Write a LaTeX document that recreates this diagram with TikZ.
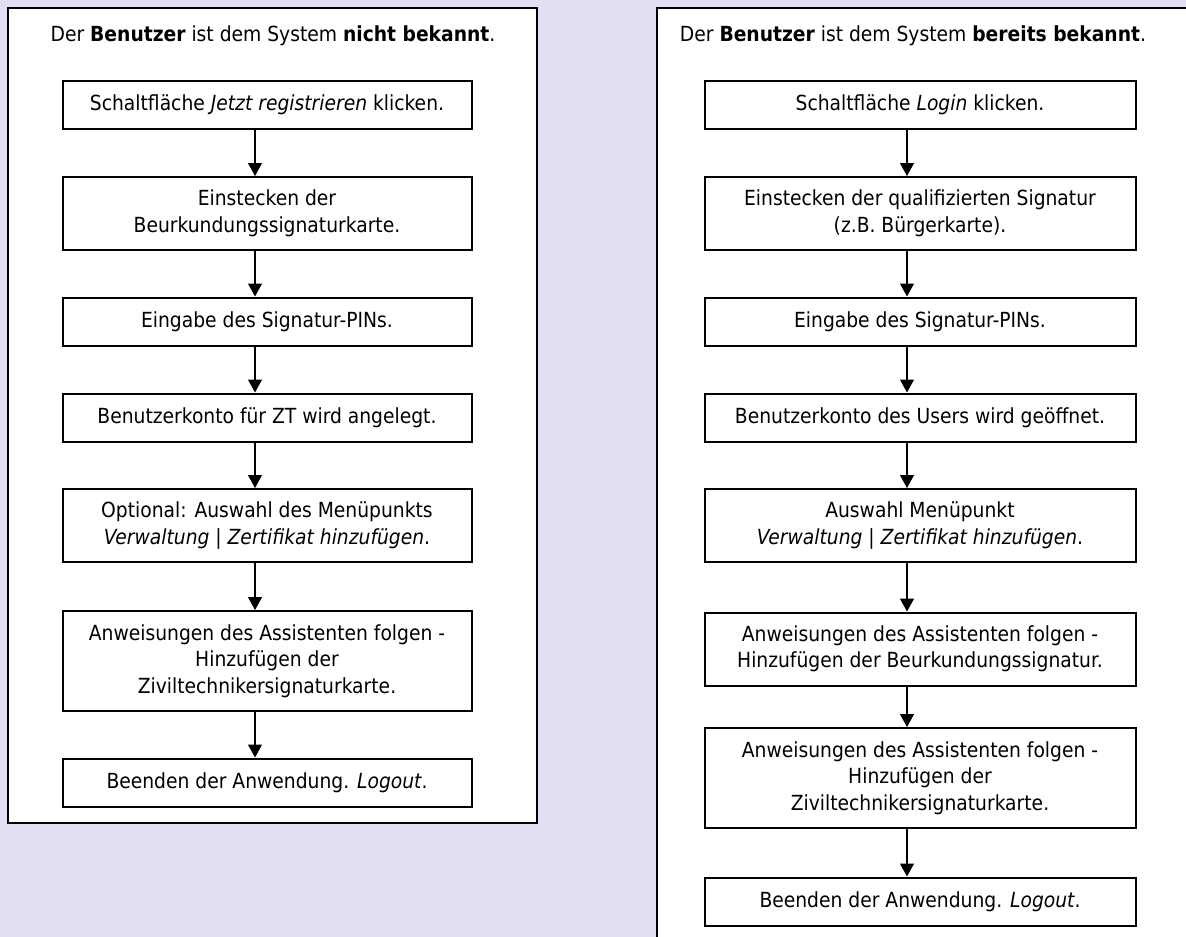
\documentclass[tikz,border=0pt]{standalone}
\usepackage{fontspec}
\setmainfont{DejaVu Sans Condensed}
\usetikzlibrary{arrows.meta,positioning}
\definecolor{bgdots}{RGB}{224,224,242}

\begin{document}
\begin{tikzpicture}[x=1pt, y=-1pt,
  stepbox/.style={draw, line width=2pt, fill=white, align=center, inner sep=0pt,
    font=\fontsize{20.8}{26.5}\selectfont},
  lbox/.style={stepbox, minimum width=409pt},
  rbox/.style={stepbox, minimum width=431pt},
  oneline/.style={minimum height=48pt},
  twoline/.style={minimum height=73pt},
  threeline/.style={minimum height=100pt},
  frame/.style={line width=2pt},
  flow/.style={-{Triangle[length=13pt,width=14pt]}, line width=1.2pt},
  title/.style={anchor=base, font=\fontsize{20.8}{24}\selectfont}]

% Background
\fill[bgdots] (0,0) rectangle (1186,937);
\useasboundingbox (0,0) rectangle (1186,937);

% Frames
\draw[frame, fill=white] (8,8) rectangle (537,823);
\fill[white] (657,8) rectangle (1186,937);
\draw[frame] (1186,8) -- (657,8) -- (657,937);

% Titles
\node[title] (ltitle) at (273,41) {Der \textbf{Benutzer} ist dem System \textbf{nicht bekannt}.};
\node[title] (rtitle) at (913,41) {Der \textbf{Benutzer} ist dem System \textbf{bereits bekannt}.};

% Left column: user not known
\node[lbox, oneline] (l1) at (267,105) {Schaltfläche \textit{Jetzt registrieren} klicken.};
\node[lbox, twoline] (l2) at (267,213.5) {Einstecken der\\Beurkundungssignaturkarte.};
\node[lbox, oneline] (l3) at (267,321.5) {Eingabe des Signatur-PINs.};
\node[lbox, oneline] (l4) at (267,417.5) {Benutzerkonto für ZT wird angelegt.};
\node[lbox, twoline] (l5) at (267,525.5) {Optional: Auswahl des Menüpunkts\\\textit{Verwaltung | Zertifikat hinzufügen}.};
\node[lbox, threeline] (l6) at (267,661) {Anweisungen des Assistenten folgen -\\Hinzufügen der\\Ziviltechnikersignaturkarte.};
\node[lbox, oneline] (l7) at (267,782.5) {Beenden der Anwendung. \textit{Logout}.};

% Right column: user already known
\node[rbox, oneline] (r1) at (920,105) {Schaltfläche \textit{Login} klicken.};
\node[rbox, twoline] (r2) at (920,213.5) {Einstecken der qualifizierten Signatur\\(z.B. Bürgerkarte).};
\node[rbox, oneline] (r3) at (920,321.5) {Eingabe des Signatur-PINs.};
\node[rbox, oneline] (r4) at (920,417.5) {Benutzerkonto des Users wird geöffnet.};
\node[rbox, twoline] (r5) at (920,525.5) {Auswahl Menüpunkt\\\textit{Verwaltung | Zertifikat hinzufügen}.};
\node[rbox, twoline] (r6) at (920,649) {Anweisungen des Assistenten folgen -\\Hinzufügen der Beurkundungssignatur.};
\node[rbox, threeline] (r7) at (920,778) {Anweisungen des Assistenten folgen -\\Hinzufügen der\\Ziviltechnikersignaturkarte.};
\node[rbox, oneline] (r8) at (920,901.5) {Beenden der Anwendung. \textit{Logout}.};

% Arrows left
\draw[flow] ([xshift=-12pt]l1.south) -- ([xshift=-12pt]l2.north);
\draw[flow] ([xshift=-12pt]l2.south) -- ([xshift=-12pt]l3.north);
\draw[flow] ([xshift=-12pt]l3.south) -- ([xshift=-12pt]l4.north);
\draw[flow] ([xshift=-12pt]l4.south) -- ([xshift=-12pt]l5.north);
\draw[flow] ([xshift=-12pt]l5.south) -- ([xshift=-12pt]l6.north);
\draw[flow] ([xshift=-12pt]l6.south) -- ([xshift=-12pt]l7.north);

% Arrows right
\draw[flow] ([xshift=-13pt]r1.south) -- ([xshift=-13pt]r2.north);
\draw[flow] ([xshift=-13pt]r2.south) -- ([xshift=-13pt]r3.north);
\draw[flow] ([xshift=-13pt]r3.south) -- ([xshift=-13pt]r4.north);
\draw[flow] ([xshift=-13pt]r4.south) -- ([xshift=-13pt]r5.north);
\draw[flow] ([xshift=-13pt]r5.south) -- ([xshift=-13pt]r6.north);
\draw[flow] ([xshift=-13pt]r6.south) -- ([xshift=-13pt]r7.north);
\draw[flow] ([xshift=-13pt]r7.south) -- ([xshift=-13pt]r8.north);

\end{tikzpicture}
\end{document}
